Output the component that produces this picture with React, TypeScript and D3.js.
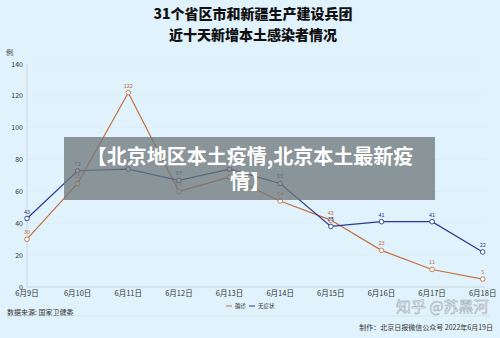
import React from "react";
import * as d3 from "d3";

const dates = ["6月9日", "6月10日", "6月11日", "6月12日", "6月13日", "6月14日", "6月15日", "6月16日", "6月17日", "6月18日"];
const confirmed = [30, 65, 122, 60, 69, 54, 42, 23, 11, 5];
const asymptomatic = [43, 73, 74, 67, 74, 65, 38, 41, 41, 22];
const yTicks = [0, 20, 40, 60, 80, 100, 120, 140];
const seriesNames = ["确诊", "无症状"];

const W = 500, H = 338;
const FONT = "'Noto Sans CJK SC', 'Noto Sans', sans-serif";
const ORANGE = "#c6703e";
const BLUE = "#2b3990";

export default function App() {
  const x = d3.scalePoint<string>().domain(dates).range([27, 482.7]);
  const y = d3.scaleLinear().domain([0, 140]).range([287, 64]);
  const line = d3.line<number>().x((_, i) => x(dates[i]) as number).y((d) => y(d));
  const series = [
    { name: seriesNames[0], values: confirmed, color: ORANGE },
    { name: seriesNames[1], values: asymptomatic, color: BLUE },
  ];
  return (
    <svg width={W} height={H} style={{ position: "absolute", left: 0, top: 0, display: "block" }} fontFamily={FONT}>
      <rect x={0} y={0} width={W} height={H} fill="#e0f2fc" />
      <text x={253} y={19} textAnchor="middle" fontSize={14} fontWeight={900} fill="#111">31个省区市和新疆生产建设兵团</text>
      <text x={253} y={40} textAnchor="middle" fontSize={14} fontWeight={900} fill="#111">近十天新增本土感染者情况</text>
      <text x={6} y={55} fontSize={7} fill="#333">例</text>
      {yTicks.map((t) => (
        <g key={t}>
          {t > 0 && <line x1={27} x2={485} y1={y(t)} y2={y(t)} stroke="#d8e8f2" strokeWidth={0.5} />}
          <text x={23} y={y(t) + 2.5} textAnchor="end" fontSize={7} fill="#333">{t}</text>
        </g>
      ))}
      <line x1={27} x2={27} y1={64} y2={287} stroke="#c4d2dc" strokeWidth={0.8} />
      <line x1={27} x2={485} y1={287} y2={287} stroke="#c4d2dc" strokeWidth={0.8} />
      {dates.map((d) => (
        <text key={d} x={x(d)} y={296} textAnchor="middle" fontSize={7.5} fill="#333">{d}</text>
      ))}
      {series.map((s) => (
        <g key={s.name}>
          <path d={line(s.values) || ""} fill="none" stroke={s.color} strokeWidth={1.2} />
          {s.values.map((v, i) => (
            <g key={i}>
              <circle cx={x(dates[i])} cy={y(v)} r={2.3} fill="#fff" stroke={s.color} strokeWidth={0.9} />
              <text x={x(dates[i])} y={y(v) - 5} textAnchor="middle" fontSize={5.5} fill={s.color}>{v}</text>
            </g>
          ))}
        </g>
      ))}
      <g fontSize={5.5} fill="#333">
        <line x1={226} x2={232} y1={306} y2={306} stroke={ORANGE} strokeWidth={1} />
        <text x={235} y={308}>{seriesNames[0]}</text>
        <line x1={249} x2={255} y1={306} y2={306} stroke={BLUE} strokeWidth={1} />
        <text x={258} y={308}>{seriesNames[1]}</text>
      </g>
      <text x={7} y={315} fontSize={7} fill="#333">数据来源: 国家卫健委</text>
      <line x1={7} x2={490} y1={316} y2={316} stroke="#cfdde6" strokeWidth={0.6} />
      <text x={493} y={330} textAnchor="end" fontSize={7} fill="#333">制作：北京日报微信公众号 2022年6月19日</text>
      <text x={396} y={312} fontSize={15} fill="#f2f7fa" stroke="#9aa6ae" strokeWidth={0.5}>知乎 @苏黑河</text>
      <rect x={64} y={137} width={371} height={63} fill="rgba(109,118,120,0.75)" />
      <text x={250} y={164} textAnchor="middle" fontSize={20} fontWeight={700} fill="#fff">【北京地区本土疫情,北京本土最新疫</text>
      <text x={250} y={189} textAnchor="middle" fontSize={20} fontWeight={700} fill="#fff">情】</text>
    </svg>
  );
}
